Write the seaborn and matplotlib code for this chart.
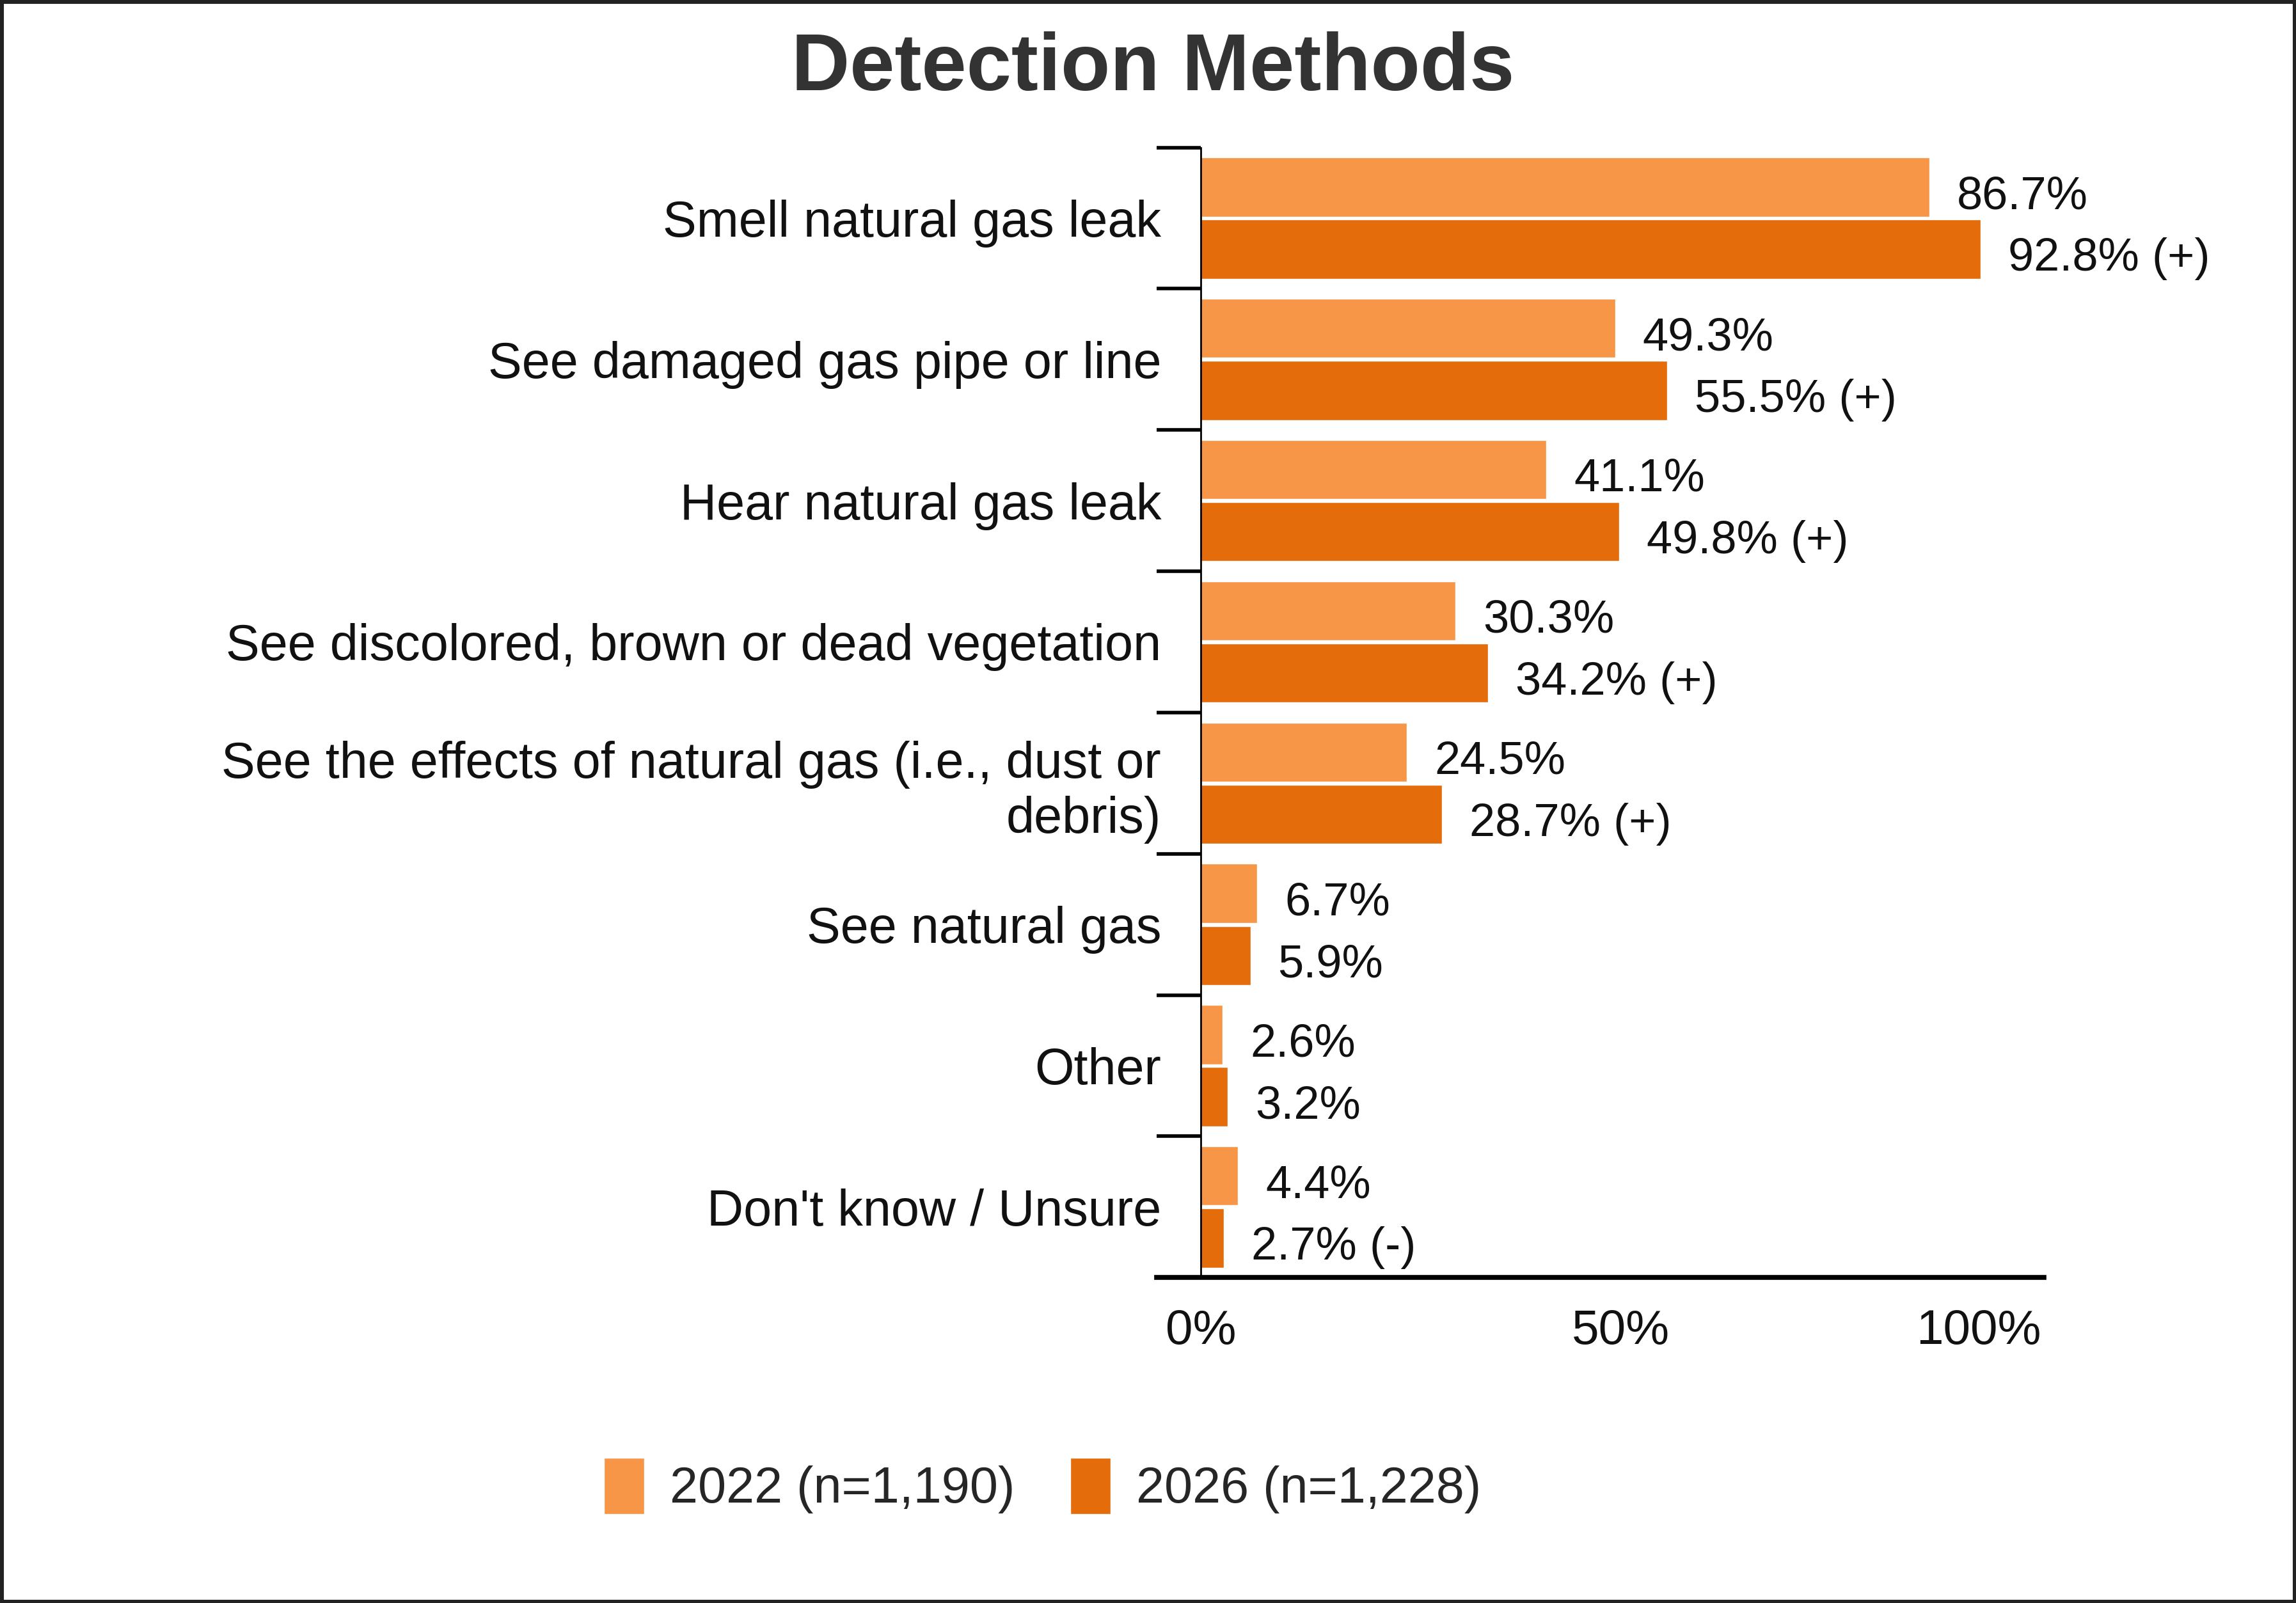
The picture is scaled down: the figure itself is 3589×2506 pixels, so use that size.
import numpy as np
import pandas as pd
import matplotlib.pyplot as plt
import seaborn as sns
from matplotlib.ticker import FixedLocator
from matplotlib.patches import Rectangle

# chart data
categories = [
    "Smell natural gas leak",
    "See damaged gas pipe or line",
    "Hear natural gas leak",
    "See discolored, brown or dead vegetation",
    "See the effects of natural gas (i.e., dust or\ndebris)",
    "See natural gas",
    "Other",
    "Don't know / Unsure",
]
series_names = ["2022 (n=1,190)", "2026 (n=1,228)"]
values_2022 = [86.7, 49.3, 41.1, 30.3, 24.5, 6.7, 2.6, 4.4]
values_2026 = [92.8, 55.5, 49.8, 34.2, 28.7, 5.9, 3.2, 2.7]
flags_2022 = ["", "", "", "", "", "", "", ""]
flags_2026 = [" (+)", " (+)", " (+)", " (+)", " (+)", "", "", " (-)"]
x_ticks = [0, 50, 100]
x_tick_labels = ["0%", "50%", "100%"]
colors = ["#F79646", "#E46C0A"]

df = pd.DataFrame({
    "category": categories * 2,
    "series": [series_names[0]] * len(categories) + [series_names[1]] * len(categories),
    "value": values_2022 + values_2026,
})

sns.set_theme(style="white")
plt.rcParams["font.family"] = ["Liberation Sans", "DejaVu Sans"]

fig = plt.figure(figsize=(35.89, 25.06), dpi=100)
ax = fig.add_axes([0.523, 0.203, 0.366, 0.705])

sns.barplot(data=df, y="category", x="value", hue="series", orient="h",
            palette=colors, saturation=1, width=0.88, gap=0.05, ax=ax)

# value labels, nudged a little below the bar centre like the original
for cont, vals, flags in zip(ax.containers, [values_2022, values_2026], [flags_2022, flags_2026]):
    anns = ax.bar_label(cont, labels=[f"{v:.1f}%{f}" for v, f in zip(vals, flags)],
                        padding=31, fontsize=52, color="#111111")
    for a in anns:
        a.xyann = (31, -11)

handles, labels = ax.get_legend_handles_labels()
ax.get_legend().remove()
fig.legend(handles, labels, loc="center", bbox_to_anchor=(0.454, 0.073), ncol=2,
           frameon=False, fontsize=57, handlelength=0.8, handleheight=1.35,
           handletextpad=0.5, columnspacing=1.1)

ax.set_xlim(0, 100)
ax.set_ylim(len(categories) - 0.5, -0.5)
ax.set_xlabel("")
ax.set_ylabel("")
ax.set_xticks(x_ticks)
ax.set_xticklabels(x_tick_labels)
ax.get_xticklabels()[-1].set_horizontalalignment("right")

ax.tick_params(axis="x", which="major", length=0, pad=35, labelsize=55, labelcolor="#111111")
ax.tick_params(axis="y", which="major", length=0, pad=44.6, labelsize=57, labelcolor="#111111")
for t in ax.get_yticklabels():
    t.set_y(t.get_position()[1])
ax.yaxis.set_minor_locator(FixedLocator(np.arange(-0.5, len(categories), 1)))
ax.tick_params(axis="y", which="minor", left=True, length=49.7, width=4, color="black")

for side in ["top", "right"]:
    ax.spines[side].set_visible(False)
ax.spines["left"].set_linewidth(2)
ax.spines["left"].set_color("black")
ax.spines["bottom"].set_linewidth(5.5)
ax.spines["bottom"].set_color("black")
ax.spines["bottom"].set_bounds(-5.25, 100.3)

fig.text(0.502, 0.957, "Detection Methods", ha="center", va="center",
         fontsize=91, fontweight="bold", color="#333333")

fig.patches.append(Rectangle((0, 0), 1, 1, transform=fig.transFigure, fill=False,
                             edgecolor="#222222", linewidth=8))

fig.savefig("out.png", dpi=100)
